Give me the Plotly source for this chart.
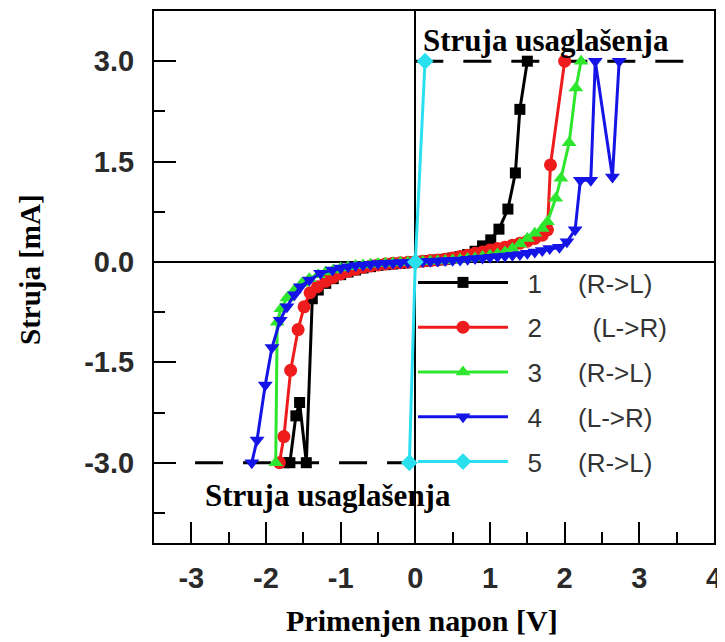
import plotly.graph_objects as go

# ---- data ----
x1 = [-1.75, -1.68, -1.60, -1.55, -1.46, -1.38, -1.30, -1.20, -1.10, -1.00, -0.90, -0.80, -0.70, -0.60,
      -0.50, -0.40, -0.30, -0.20, -0.10, 0.00, 0.10, 0.20, 0.30, 0.40, 0.50, 0.60, 0.70, 0.80, 0.90,
      1.01, 1.12, 1.24, 1.34, 1.40, 1.50]
y1 = [-3.0, -3.0, -2.3, -2.1, -3.0, -0.55, -0.42, -0.32, -0.25, -0.19, -0.15, -0.12, -0.09, -0.07,
      -0.05, -0.04, -0.03, -0.02, -0.01, 0.0, 0.01, 0.02, 0.03, 0.04, 0.06, 0.08, 0.11, 0.16, 0.24,
      0.33, 0.49, 0.79, 1.33, 2.28, 3.0]

x2 = [-1.82, -1.76, -1.67, -1.57, -1.49, -1.41, -1.31, -1.20, -1.10, -1.00, -0.90, -0.80, -0.70, -0.60,
      -0.50, -0.40, -0.30, -0.20, -0.10, 0.00, 0.10, 0.20, 0.30, 0.40, 0.50, 0.60, 0.70, 0.80, 0.90,
      1.00, 1.10, 1.20, 1.30, 1.40, 1.50, 1.60, 1.70, 1.77, 1.81, 2.00]
y2 = [-3.0, -2.61, -1.62, -1.01, -0.67, -0.46, -0.37, -0.29, -0.23, -0.18, -0.14, -0.11, -0.08, -0.06,
      -0.045, -0.03, -0.02, -0.012, -0.005, 0.0, 0.01, 0.02, 0.03, 0.04, 0.06, 0.08, 0.10, 0.13, 0.15,
      0.18, 0.20, 0.22, 0.25, 0.28, 0.31, 0.35, 0.40, 0.48, 1.45, 3.0]

x3 = [-1.87, -1.85, -1.80, -1.72, -1.62, -1.52, -1.42, -1.30, -1.20, -1.10, -1.00, -0.90, -0.80, -0.70,
      -0.60, -0.50, -0.40, -0.30, -0.20, -0.10, 0.00, 0.10, 0.20, 0.30, 0.40, 0.50, 0.60, 0.70, 0.80,
      0.90, 1.00, 1.10, 1.20, 1.30, 1.40, 1.50, 1.60, 1.70, 1.77, 1.88, 1.95, 2.06, 2.15, 2.22]
y3 = [-3.0, -0.90, -0.70, -0.54, -0.42, -0.32, -0.25, -0.19, -0.15, -0.12, -0.09, -0.07, -0.055, -0.045,
      -0.035, -0.025, -0.02, -0.015, -0.01, -0.005, 0.0, 0.005, 0.01, 0.015, 0.02, 0.03, 0.04, 0.05, 0.06,
      0.08, 0.10, 0.12, 0.15, 0.20, 0.27, 0.35, 0.43, 0.50, 0.60, 0.95, 1.25, 1.78, 2.60, 3.0]

x4 = [-2.19, -2.12, -2.01, -1.92, -1.81, -1.72, -1.62, -1.54, -1.42, -1.27, -1.11, -1.00, -0.90, -0.80,
      -0.70, -0.60, -0.50, -0.40, -0.30, -0.20, -0.10, 0.00, 0.10, 0.20, 0.30, 0.40, 0.50, 0.60, 0.70,
      0.80, 0.90, 1.00, 1.10, 1.20, 1.30, 1.40, 1.50, 1.60, 1.70, 1.80, 1.93, 2.03, 2.14, 2.21, 2.35,
      2.41, 2.64, 2.73]
y4 = [-3.0, -2.66, -1.84, -1.28, -0.87, -0.67, -0.49, -0.37, -0.27, -0.17, -0.12, -0.09, -0.07, -0.055,
      -0.045, -0.035, -0.025, -0.02, -0.015, -0.01, -0.005, 0.0, 0.005, 0.01, 0.015, 0.02, 0.025, 0.03,
      0.04, 0.05, 0.06, 0.07, 0.08, 0.09, 0.10, 0.11, 0.13, 0.15, 0.17, 0.20, 0.22, 0.30, 0.48, 1.22,
      1.22, 3.0, 1.27, 3.0]

x5 = [-0.08, 0.00, 0.13]
y5 = [-3.0, 0.0, 3.0]

compliance_top_x = [0.0, 3.8]
compliance_top_y = [3.0, 3.0]
compliance_bot_x = [-2.95, 0.0]
compliance_bot_y = [-3.0, -3.0]

NB = "\u00a0"
series_names = [NB * 2 + "1" + NB * 5 + "(R->L)", NB * 2 + "2" + NB * 7 + "(L->R)",
                NB * 2 + "3" + NB * 5 + "(R->L)", NB * 2 + "4" + NB * 5 + "(L->R)",
                NB * 2 + "5" + NB * 5 + "(R->L)"]
annot_text = "Struja usaglašenja"

xticks = [-3, -2, -1, 0, 1, 2, 3, 4]
yticks = [-3.0, -1.5, 0.0, 1.5, 3.0]

# ---- figure ----
fig = go.Figure()

for cx, cy in [(compliance_top_x, compliance_top_y), (compliance_bot_x, compliance_bot_y)]:
    fig.add_trace(go.Scatter(x=cx, y=cy, mode="lines", showlegend=False, hoverinfo="skip",
                             line=dict(color="black", width=3, dash="28px,20px")))

styles = [
    ("#000000", "square", 11),
    ("#ee1c1c", "circle", 13),
    ("#2ee62e", "triangle-up", 13),
    ("#1414e6", "triangle-down", 13),
    ("#2ae0ee", "diamond", 13),
]
data = [(x1, y1), (x2, y2), (x3, y3), (x4, y4), (x5, y5)]
for i, ((xs, ys), (col, sym, sz), nm) in enumerate(zip(data, styles, series_names)):
    fig.add_trace(go.Scatter(x=xs, y=ys, mode="lines+markers", name=nm, legendgroup=str(i),
                             line=dict(color=col, width=3),
                             marker=dict(color=col, symbol=sym, size=sz, line=dict(width=0))))

tickfont = dict(family="Liberation Sans", size=29, color="#2a2a2a")
fig.update_xaxes(range=[-3.5, 4.0], tickvals=xticks, ticktext=["<b>%d</b>" % v for v in xticks],
                 ticks="inside", ticklen=21, tickwidth=2, tickcolor="black",
                 minor=dict(dtick=0.5, tick0=-3.5, ticks="inside", ticklen=11, tickwidth=2, tickcolor="black"),
                 showline=True, linecolor="black", linewidth=2, mirror=True, automargin=False,
                 showgrid=False, zeroline=True, zerolinecolor="black", zerolinewidth=2,
                 tickfont=tickfont, ticklabelstandoff=8)
fig.update_yaxes(range=[-4.2, 3.75], tickvals=yticks, ticktext=["<b>%.1f</b>" % v for v in yticks],
                 ticks="inside", ticklen=22, tickwidth=2, tickcolor="black",
                 minor=dict(dtick=0.75, tick0=0, ticks="inside", ticklen=11, tickwidth=2, tickcolor="black"),
                 showline=True, linecolor="black", linewidth=2, mirror=True, automargin=False,
                 showgrid=False, zeroline=True, zerolinecolor="black", zerolinewidth=2,
                 tickfont=tickfont, ticklabelstandoff=12)

# the page body adds an 8px offset; layout pixel positions below are in screenshot pixels
OFF = 8
FW, FH = 725 - OFF, 642 - OFF
PW, PH, L, T = 560, 532, 154 - OFF, 11 - OFF


def px_x(p):
    return (p - OFF - L) / PW


def px_y(p):
    return (T + PH - (p - OFF)) / PH


serif_a = dict(family="Liberation Serif", size=31, color="black")
fig.update_layout(
    width=FW, height=FH,
    margin=dict(l=L, r=FW - L - PW, t=T, b=FH - T - PH),
    plot_bgcolor="white", paper_bgcolor="white",
    legend=dict(x=px_x(413), y=px_y(259), xanchor="left", yanchor="top", bgcolor="rgba(0,0,0,0)",
                itemwidth=90, tracegroupgap=8,
                font=dict(family="Liberation Sans", size=26, color="#333333")),
)
fig.add_annotation(text="<b>" + annot_text + "</b>", xref="paper", yref="paper",
                   x=px_x(546), y=px_y(40), xanchor="center", yanchor="middle",
                   showarrow=False, font=serif_a)
fig.add_annotation(text="<b>" + annot_text + "</b>", xref="paper", yref="paper",
                   x=px_x(328), y=px_y(495), xanchor="center", yanchor="middle",
                   showarrow=False, font=serif_a)
fig.add_annotation(text="<b>Struja [mA]</b>", xref="paper", yref="paper",
                   x=px_x(30), y=px_y(270), xanchor="center", yanchor="middle",
                   textangle=-90, showarrow=False,
                   font=dict(family="Liberation Serif", size=29, color="black"))
fig.add_annotation(text="<b>Primenjen napon [V]</b>", xref="paper", yref="paper",
                   x=px_x(422), y=px_y(620), xanchor="center", yanchor="middle",
                   showarrow=False, font=dict(family="Liberation Serif", size=30, color="black"))

fig.write_html("out.html")
